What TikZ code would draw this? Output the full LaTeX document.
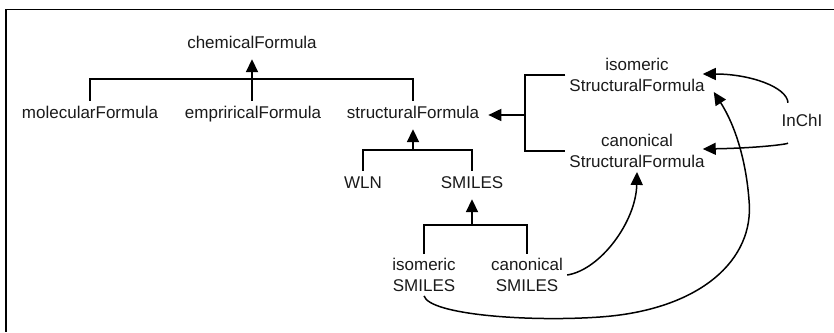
\documentclass[tikz,border=0pt]{standalone}
\usepackage{fontspec}
\setmainfont{Liberation Sans}
\usetikzlibrary{arrows.meta}
\definecolor{txt}{HTML}{1A1A1A}
\newcommand{\lblfont}{\fontsize{17pt}{21pt}\selectfont}
\begin{document}
\begin{tikzpicture}[x=1pt,y=1pt,
  lbl/.style={font=\lblfont, text=txt,
    inner xsep=4pt, inner ysep=6pt, text height=12pt, text depth=4pt},
  lbltwo/.style={font=\lblfont, text=txt, align=center,
    inner xsep=4pt, inner ysep=4pt},
  tree/.style={line width=1.8pt, line join=miter},
  arr/.style={tree, -{Triangle[length=13pt,width=12pt]}},
  carr/.style={line width=1.5pt, -{Triangle[length=13pt,width=12pt]}}]
\useasboundingbox (0,0) rectangle (834,332);
\draw[line width=1.5pt] (834,322.5) -- (6,322.5) -- (6,0);
% nodes
\node[lbl] (chem) at (252,287) {chemicalFormula};
\node[lbl] (mol) at (90,217) {molecularFormula};
\node[lbl] (emp) at (253,217) {empriricalFormula};
\node[lbl] (sf) at (413,217) {structuralFormula};
\node[lbl] (wln) at (363,147) {WLN};
\node[lbl] (smiles) at (472,147) {SMILES};
\node[lbltwo] (isoS) at (424,57) {isomeric\\SMILES};
\node[lbltwo] (canS) at (527,57) {canonical\\SMILES};
\node[lbltwo] (isoSF) at (637,257) {isomeric\\StructuralFormula};
\node[lbltwo] (canSF) at (637,181) {canonical\\StructuralFormula};
\node[lbl] (inchi) at (802,209) {InChI};
% junctions
\coordinate (b1) at (252,253);
\coordinate (b2) at (413,182);
\coordinate (b3) at (472,107);
\coordinate (br) at (525,217);
% tree connectors
\draw[tree] (mol.north) |- (b1) -| (sf.north);
\draw[arr] (emp.north -| chem.south) -- (chem.south);
\draw[tree] (wln.north) |- (b2) -| (smiles.north);
\draw[arr] (b2) -- (sf.south);
\draw[tree] (isoS.north) |- (b3) -| (canS.north);
\draw[arr] (b3) -- (smiles.south);
\draw[tree] (isoSF.west) -| (br) |- (canSF.west);
\draw[arr, shorten >=5pt] (br) -- (sf.east);
% curves
\draw[carr] (canS.east) .. controls (600,62) and (636,110) .. (canSF.south);
\draw[carr] (isoS.south) .. controls (430,17) and (530,10) .. (600,15)
  .. controls (700,22) and (755,72) .. (749,132)
  .. controls (746,172) and (735,207) .. ([shift={(5,4)}]isoSF.south east);
\draw[carr] ([xshift=-14pt,yshift=6pt]inchi.north) .. controls (787,245) and (750,258) .. ([shift={(-6,1)}]isoSF.east);
\draw[carr] ([xshift=-14pt,yshift=-6pt]inchi.south) .. controls (788,188) and (760,184) .. ([shift={(-6,2)}]canSF.east);
\end{tikzpicture}
\end{document}
